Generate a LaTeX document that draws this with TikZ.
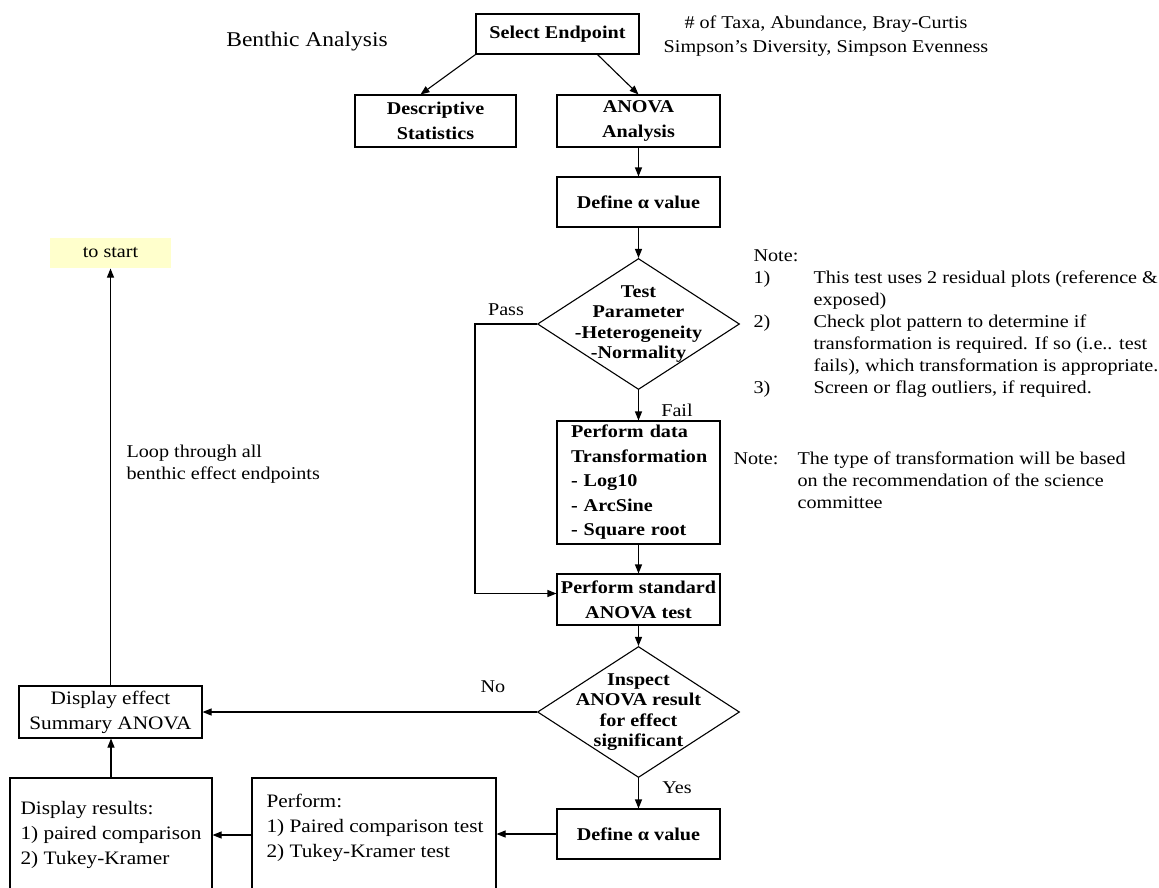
\documentclass[tikz,border=0pt]{standalone}
\usepackage{fontspec}
\setmainfont[FakeStretch=1.12]{Liberation Serif}
\usetikzlibrary{shapes.geometric, arrows.meta}
\definecolor{startyellow}{HTML}{FFFFCC}

\begin{document}
\begin{tikzpicture}[x=1pt, y=-1pt, line width=1.1pt, >={Triangle[length=9pt,width=7pt]},
  block/.style={draw, rectangle, align=center, inner sep=0pt, font=\fontsize{18}{25}\selectfont\bfseries},
  plain/.style={draw, rectangle, align=center, inner sep=0pt, font=\fontsize{19}{25}\selectfont},
  decision/.style={draw, diamond, minimum width=202pt, minimum height=131pt, inner sep=0pt},
  dtext/.style={align=center, inner sep=0pt, font=\fontsize{18}{20.5}\selectfont\bfseries},
  txt/.style={inner sep=0pt, font=\fontsize{18}{22}\selectfont}]

\useasboundingbox (0,0) rectangle (1159,887);

\node[txt, font=\fontsize{21}{25}\selectfont] (title) at (307,41) {Benthic Analysis};
\node[block, minimum width=163pt, minimum height=40pt] (sel) at (557.5,34) {Select Endpoint};
\node[txt, align=center, font=\fontsize{18}{24}\selectfont] (metrics) at (826,36) {\# of Taxa, Abundance, Bray-Curtis\\Simpson's Diversity, Simpson Evenness};
\node[block, minimum width=161pt, minimum height=52pt] (desc) at (435.5,121) {Descriptive\\Statistics};
\node[block, minimum width=163pt, minimum height=52pt] (anova) at (638.5,121) {ANOVA\\Analysis};
\node[block, minimum width=163pt, minimum height=50pt] (alpha) at (638.5,202) {Define α value};
\node[decision, label={[dtext]center:{Test\\Parameter\\-Heterogeneity\\-Normality}}] (test) at (638.5,324) {};
\node[block, align=left, text width=135pt, inner xsep=14pt, minimum height=123pt, font=\fontsize{18}{24.5}\selectfont\bfseries] (trans) at (638.5,482.5) {Perform data\\Transformation\\- Log10\\- ArcSine\\- Square root};
\node[block, minimum width=163pt, minimum height=51pt] (std) at (638.5,599.5) {Perform standard\\ANOVA test};
\node[decision, label={[dtext]center:{Inspect\\ANOVA result\\for effect\\significant}}] (sig) at (638.5,712) {};
\node[block, minimum width=163pt, minimum height=50pt] (alpha2) at (638.5,834) {Define α value};
\node[plain, minimum width=244pt, minimum height=114pt] (perf) at (374,835) {};
\node[txt, anchor=west, align=left, font=\fontsize{19}{25}\selectfont] (perftxt) at (266,828) {Perform:\\1) Paired comparison test\\2) Tukey-Kramer test};
\node[plain, align=left, minimum width=202pt, minimum height=114pt] (disp) at (111,835) {Display results:\\1) paired comparison\\2) Tukey-Kramer};
\node[plain, minimum width=183pt, minimum height=52pt] (effect) at (110.5,712) {Display effect\\Summary ANOVA};
\node[txt, fill=startyellow, minimum width=121pt, minimum height=30pt] (start) at (110.5,253) {to start};
\node[txt, anchor=west, align=left] (loop) at (126,464) {Loop through all\\benthic effect endpoints};

% notes on the right
\node[txt, anchor=west, align=left] (notes) at (753,324) {Note:\\
  \makebox[60pt][l]{1)}This test uses 2 residual plots (reference \&\\
  \hspace*{60pt}exposed)\\
  \makebox[60pt][l]{2)}Check plot pattern to determine if\\
  \hspace*{60pt}transformation is required. If so (i.e.. test\\
  \hspace*{60pt}fails), which transformation is appropriate.\\
  \makebox[60pt][l]{3)}Screen or flag outliers, if required.};
\node[txt, anchor=west, align=left] (note2) at (733,480) {\makebox[64pt][l]{Note:}The type of transformation will be based\\
  \hspace*{64pt}on the recommendation of the science\\
  \hspace*{64pt}committee};

\node[txt] (pass) at (506,310) {Pass};
\node[txt] (fail) at (677,410) {Fail};
\node[txt] (no) at (493,687) {No};
\node[txt] (yes) at (677,788) {Yes};

\coordinate (bypass) at (475,324);

\path[->]
  (sel.south west) edge ([xshift=-15pt]desc.north)
  ([xshift=40pt]sel.south) edge (anova.north)
  (anova) edge (alpha)
  (alpha) edge (test)
  (test) edge (trans)
  (trans) edge (std)
  (std) edge (sig)
  (sig) edge (alpha2)
  (sig) edge (effect)
  (alpha2.west) edge (alpha2.west -| perf.east)
  (perf) edge (disp)
  (disp.north) edge (disp.north |- effect.south)
  (effect) edge (start);
\draw[->] (test.west) -- (bypass) |- ([yshift=6pt]std.west);

\end{tikzpicture}
\end{document}
